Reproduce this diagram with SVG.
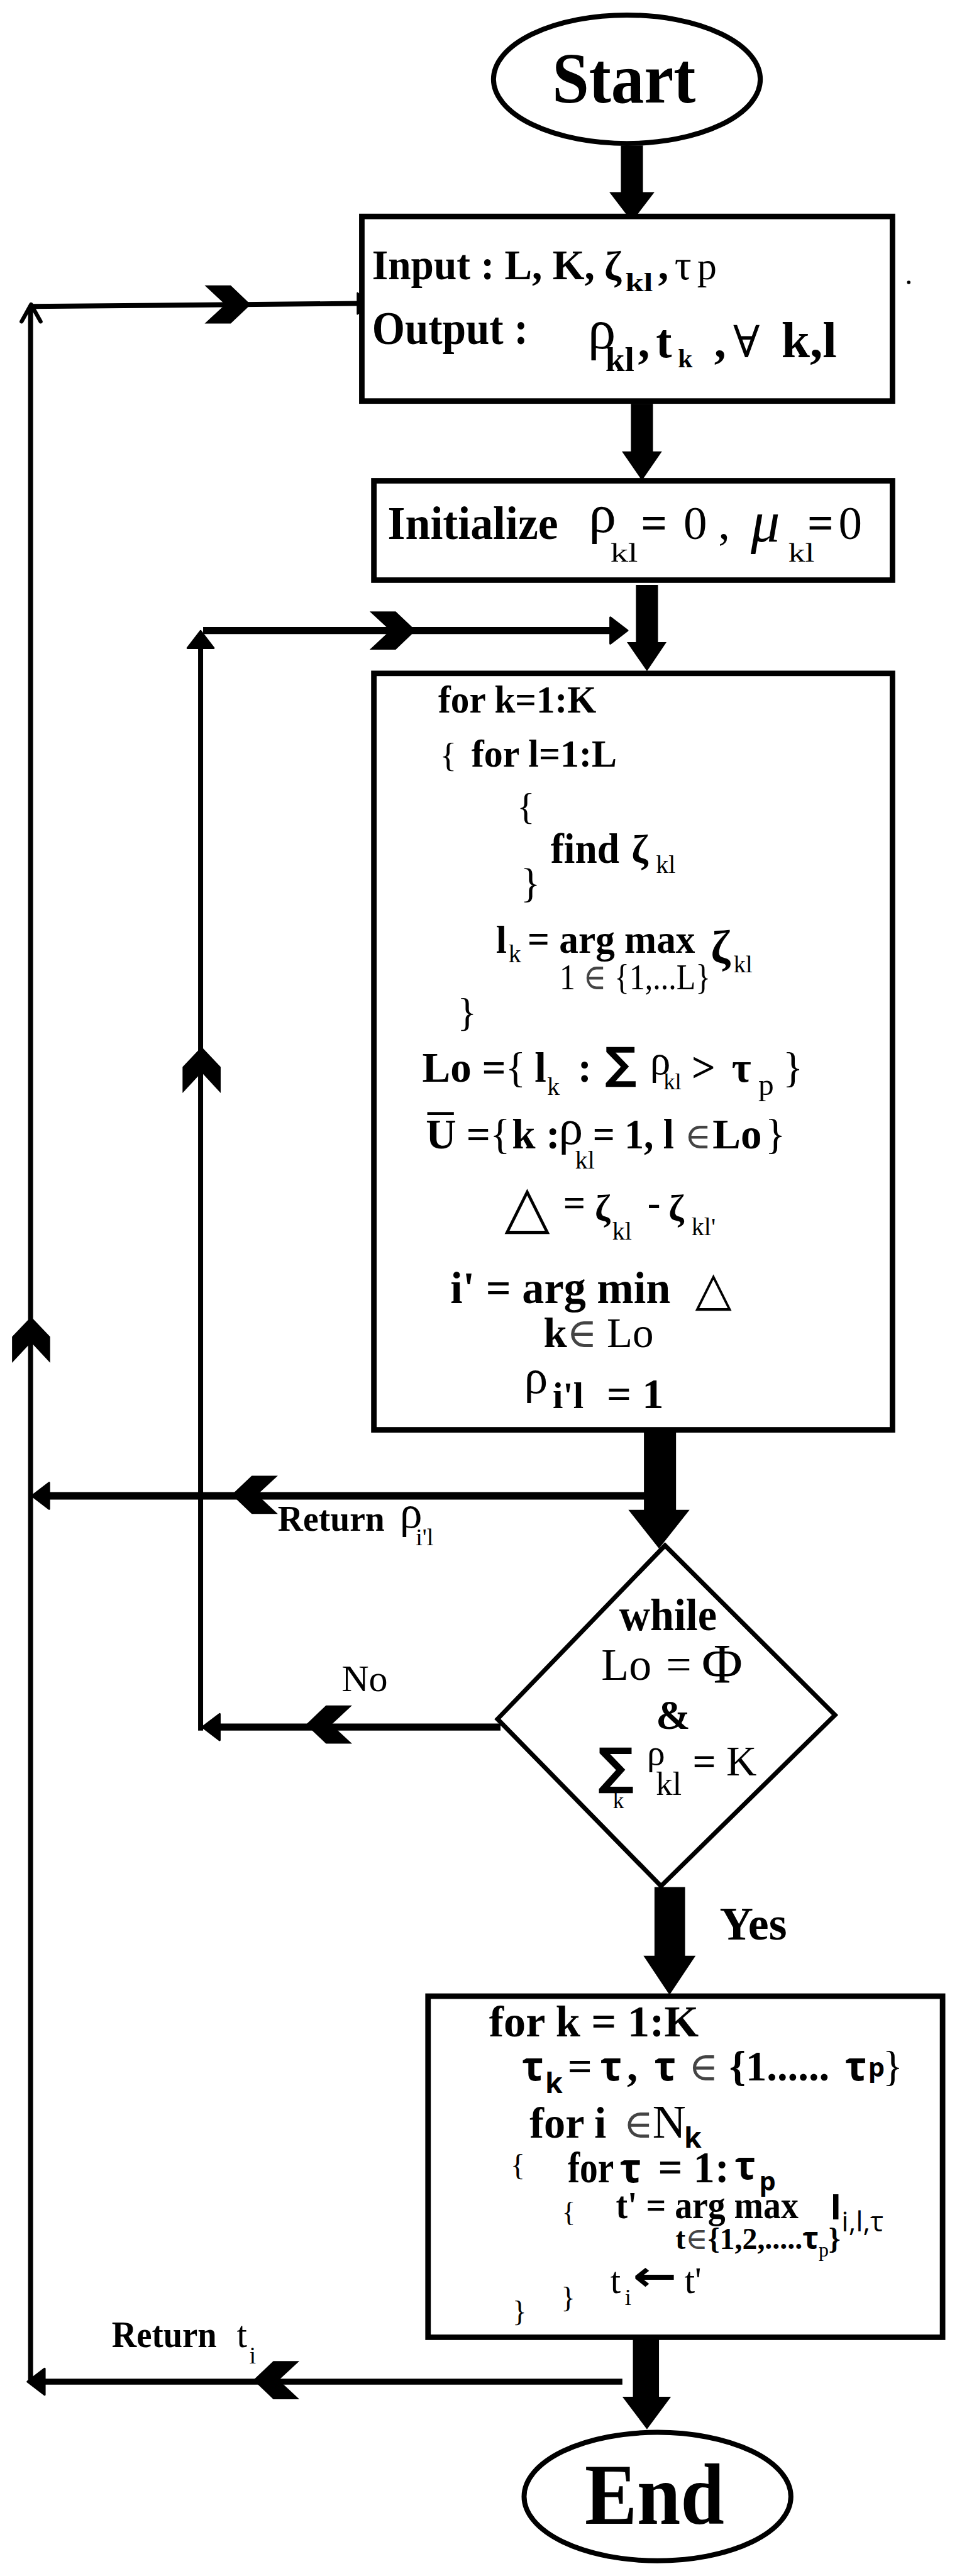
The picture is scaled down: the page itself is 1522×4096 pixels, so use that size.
<svg xmlns="http://www.w3.org/2000/svg" width="1522" height="4096" viewBox="0 0 1522 4096">
<defs>
<style>
text{fill:#000}
.b{font-family:"Liberation Serif","DejaVu Serif",serif;font-weight:bold}
.r{font-family:"Liberation Serif","DejaVu Serif",serif;font-weight:normal}
.sb{font-family:"Open Sans","DejaVu Sans",sans-serif;font-weight:bold}
.sr{font-family:"Open Sans","DejaVu Sans",sans-serif;font-weight:normal}
.sym{font-family:"DejaVu Sans",sans-serif;font-weight:normal}
.symb{font-family:"DejaVu Sans",sans-serif;font-weight:bold}
.g{fill:#444}
.box{fill:#fff;stroke:#000;stroke-width:11}
.ell{fill:#fff;stroke:#000;stroke-width:10}
.k{fill:#000}
.ln{stroke:#000;fill:none}
.tipc{fill:#000;stroke:#000;stroke-width:4;stroke-linejoin:round}
</style>
<path id="chev" d="M0,0 L-40,-38 L-92,-38 L-51,0 L-92,38 L-40,38 Z"/>
<path id="tip" d="M0,0 L-34,-26 L-34,26 Z"/>
</defs>
<rect width="1522" height="4096" fill="#fff"/>
<g transform="scale(0.7976)">

<g id="connectors">
  <!-- Start -> Input -->
  <rect class="k" x="1238" y="290" width="44" height="95"/>
  <polygon class="k" points="1215,383 1305,383 1260,442"/>
  <!-- Input -> Initialize -->
  <rect class="k" x="1258" y="805" width="44" height="100"/>
  <polygon class="k" points="1240,900 1320,900 1280,958"/>
  <!-- Initialize -> loop -->
  <rect class="k" x="1268" y="1166" width="44" height="116"/>
  <polygon class="k" points="1250,1280 1329,1280 1290,1338"/>
  <!-- loop -> decision -->
  <rect class="k" x="1284" y="2854" width="64" height="158"/>
  <polygon class="k" points="1253,3010 1375,3010 1314,3087"/>
  <!-- decision -> assign (Yes) -->
  <rect class="k" x="1305" y="3762" width="61" height="139"/>
  <polygon class="k" points="1283,3899 1387,3899 1335,3977"/>
  <!-- assign -> End -->
  <rect class="k" x="1262" y="4662" width="52" height="118"/>
  <polygon class="k" points="1241,4778 1338,4778 1290,4843"/>

  <!-- outer feedback loop -->
  <line class="ln" x1="61" y1="4748" x2="61" y2="615" stroke-width="10"/>
  <path class="ln" d="M43,641 L62,607 L81,641" stroke-width="8" stroke-linecap="round" stroke-linejoin="round"/>
  <line class="ln" x1="61" y1="611" x2="716" y2="605" stroke-width="10"/>
  <use href="#tip" class="tipc" transform="translate(740,605) scale(0.8)"/>
  <use href="#chev" class="k" transform="translate(500,607)"/>
  <use href="#chev" class="k" transform="translate(62,2625) rotate(-90)"/>

  <!-- inner loop -->
  <line class="ln" x1="400" y1="3450" x2="400" y2="1285" stroke-width="10"/>
  <use href="#tip" class="tipc" transform="translate(400,1258) rotate(-90)"/>
  <line class="ln" x1="405" y1="1257" x2="1220" y2="1257" stroke-width="14"/>
  <use href="#tip" class="tipc" transform="translate(1251,1257)"/>
  <use href="#chev" class="k" transform="translate(829,1257)"/>
  <use href="#chev" class="k" transform="translate(402,2087) rotate(-90)"/>

  <!-- Return rho -->
  <line class="ln" x1="1290" y1="2982" x2="92" y2="2982" stroke-width="15"/>
  <use href="#tip" class="tipc" transform="translate(64,2982) rotate(180)"/>
  <use href="#chev" class="k" transform="translate(462,2980) rotate(180)"/>
  <text class="b" x="554" y="3052" font-size="72" textLength="213" lengthAdjust="spacingAndGlyphs">Return</text>
  <text class="r" x="797" y="3045" font-size="90">ρ</text>
  <text class="r" x="829" y="3081" font-size="48">i'l</text>

  <!-- No -->
  <line class="ln" x1="998" y1="3443" x2="430" y2="3443" stroke-width="14"/>
  <use href="#tip" class="tipc" transform="translate(404,3443) rotate(180)"/>
  <use href="#chev" class="k" transform="translate(610,3438) rotate(180)"/>
  <text class="r" x="681" y="3371" font-size="74" textLength="92" lengthAdjust="spacingAndGlyphs">No</text>

  <!-- Yes -->
  <text class="b" x="1435" y="3866" font-size="94" textLength="134" lengthAdjust="spacingAndGlyphs">Yes</text>

  <!-- Return t_i -->
  <line class="ln" x1="1241" y1="4748" x2="80" y2="4748" stroke-width="12"/>
  <use href="#tip" class="tipc" transform="translate(55,4748) rotate(180)"/>
  <use href="#chev" class="k" transform="translate(505,4745) rotate(180)"/>
  <text class="b" x="223" y="4679" font-size="74" textLength="209" lengthAdjust="spacingAndGlyphs">Return</text>
  <text class="r" x="472" y="4679" font-size="74">t</text>
  <text class="r" x="497" y="4712" font-size="48">i</text>
</g>

<g id="node-start">
  <ellipse class="ell" cx="1250" cy="158" rx="266" ry="128"/>
  <text class="b" x="1244" y="204" font-size="144" text-anchor="middle" textLength="286" lengthAdjust="spacingAndGlyphs">Start</text>
</g>

<g id="node-input">
  <rect class="box" x="721.5" y="431.5" width="1058" height="368"/>
  <text class="b" x="742" y="557" font-size="86" textLength="444" lengthAdjust="spacingAndGlyphs">Input : L, K,</text>
  <text class="b" x="1205" y="558" font-size="82">ζ</text>
  <text class="b" x="1247" y="580" font-size="54" textLength="55" lengthAdjust="spacingAndGlyphs">kl</text>
  <text class="b" x="1312" y="557" font-size="84">,</text>
  <text class="r" x="1345" y="557" font-size="84">τ</text>
  <text class="r" x="1390" y="557" font-size="78">p</text>
  <text class="b" x="742" y="686" font-size="94" textLength="311" lengthAdjust="spacingAndGlyphs">Output :</text>
  <text class="r" x="1172" y="694" font-size="112">ρ</text>
  <text class="b" x="1207" y="740" font-size="70" textLength="58" lengthAdjust="spacingAndGlyphs">kl</text>
  <text class="b" x="1272" y="712" font-size="95">,</text>
  <text class="b" x="1308" y="712" font-size="95">t</text>
  <text class="b" x="1352" y="732" font-size="52">k</text>
  <text class="b" x="1424" y="712" font-size="95">,</text>
  <text class="r" x="1462" y="712" font-size="88">∀</text>
  <text class="b" x="1558" y="712" font-size="102">k,l</text>
  <circle cx="1812" cy="563" r="3.5" fill="#000"/>
</g>

<g id="node-init">
  <rect class="box" x="745.5" y="958.5" width="1034" height="198"/>
  <text class="b" x="773" y="1074" font-size="94" textLength="340" lengthAdjust="spacingAndGlyphs">Initialize</text>
  <text class="r" x="1174" y="1061" font-size="110">ρ</text>
  <text class="r" x="1217" y="1120" font-size="52" textLength="55" lengthAdjust="spacingAndGlyphs">kl</text>
  <text class="b" x="1278" y="1074" font-size="92">=</text>
  <text class="r" x="1363" y="1074" font-size="94">0</text>
  <text class="r" x="1432" y="1074" font-size="94">,</text>
  <text class="r" x="1497" y="1080" font-size="116" font-style="italic" fill="#333">μ</text>
  <text class="r" x="1572" y="1120" font-size="52" textLength="52" lengthAdjust="spacingAndGlyphs">kl</text>
  <text class="b" x="1610" y="1074" font-size="92">=</text>
  <text class="r" x="1672" y="1074" font-size="94">0</text>
</g>

<g id="node-loop">
  <rect class="box" x="745.5" y="1342.5" width="1034" height="1508"/>
  <text class="b" x="874" y="1420" font-size="76" textLength="315" lengthAdjust="spacingAndGlyphs">for k=1:K</text>
  <text class="r" x="877" y="1528" font-size="70">{</text>
  <text class="b" x="940" y="1528" font-size="76" textLength="290" lengthAdjust="spacingAndGlyphs">for l=1:L</text>
  <text class="r" x="1031" y="1632" font-size="74">{</text>
  <text class="b" x="1098" y="1720" font-size="84" textLength="137" lengthAdjust="spacingAndGlyphs">find</text>
  <text class="b" x="1259" y="1720" font-size="80">ζ</text>
  <text class="r" x="1308" y="1740" font-size="50">kl</text>
  <text class="r" x="1038" y="1788" font-size="82">}</text>
  <text class="b" x="989" y="1900" font-size="78">l</text>
  <text class="r" x="1014" y="1918" font-size="50">k</text>
  <text class="b" x="1052" y="1900" font-size="80" textLength="334" lengthAdjust="spacingAndGlyphs">= arg max</text>
  <text class="b" x="1417" y="1920" font-size="94">ζ</text>
  <text class="r" x="1463" y="1938" font-size="48">kl</text>
  <text class="r" x="1116" y="1972" font-size="72" textLength="301" lengthAdjust="spacingAndGlyphs">1 <tspan class="g">∈</tspan> {1,...L}</text>
  <text class="r" x="912" y="2045" font-size="80">}</text>

  <text class="b" x="842" y="2156" font-size="84">Lo =</text>
  <text class="r" x="1008" y="2156" font-size="84">{</text>
  <text class="b" x="1066" y="2156" font-size="84">l</text>
  <text class="r" x="1091" y="2183" font-size="50">k</text>
  <text class="b" x="1152" y="2156" font-size="84">:</text>
  <text class="symb" x="1206" y="2150" font-size="88">∑</text>
  <text class="r" x="1296" y="2141" font-size="82">ρ</text>
  <text class="r" x="1323" y="2171" font-size="46">kl</text>
  <text class="b" x="1379" y="2156" font-size="84">&gt;</text>
  <text class="b" x="1459" y="2156" font-size="84">τ</text>
  <text class="r" x="1512" y="2183" font-size="62">p</text>
  <text class="r" x="1561" y="2156" font-size="84">}</text>

  <text class="b" x="849" y="2289" font-size="84">U</text>
  <line x1="852" y1="2220" x2="905" y2="2220" stroke="#000" stroke-width="6"/>
  <text class="b" x="930" y="2289" font-size="84">=</text>
  <text class="r" x="977" y="2289" font-size="84">{</text>
  <text class="b" x="1021" y="2289" font-size="84">k :</text>
  <text class="r" x="1114" y="2280" font-size="97">ρ</text>
  <text class="r" x="1147" y="2329" font-size="50">kl</text>
  <text class="b" x="1182" y="2289" font-size="84" textLength="162" lengthAdjust="spacingAndGlyphs">= 1, l</text>
  <text class="r g" x="1365" y="2289" font-size="72">∈</text>
  <text class="b" x="1421" y="2289" font-size="84">Lo</text>
  <text class="r" x="1526" y="2289" font-size="84">}</text>

  <text class="sym" x="1006" y="2446" font-size="118">△</text>
  <text class="b" x="1123" y="2423" font-size="78">=</text>
  <text class="b" x="1186" y="2433" font-size="74">ζ</text>
  <text class="r" x="1221" y="2471" font-size="50">kl</text>
  <text class="b" x="1291" y="2423" font-size="78">-</text>
  <text class="b" x="1333" y="2433" font-size="74">ζ</text>
  <text class="r" x="1379" y="2462" font-size="50">kl'</text>

  <text class="b" x="898" y="2598" font-size="90" textLength="439" lengthAdjust="spacingAndGlyphs">i' = arg min</text>
  <text class="sym" x="1386" y="2601" font-size="95">△</text>
  <text class="b" x="1084" y="2686" font-size="84">k</text>
  <text class="r g" x="1130" y="2686" font-size="82">∈</text>
  <text class="r" x="1210" y="2686" font-size="84">Lo</text>

  <text class="r" x="1045" y="2777" font-size="95">ρ</text>
  <text class="b" x="1102" y="2807" font-size="74">i'l</text>
  <text class="b" x="1210" y="2807" font-size="86">= 1</text>
</g>

<g id="node-decision">
  <polygon points="1326,3081 1665,3419 1318,3760 992,3427" fill="#fff" stroke="#000" stroke-width="9"/>
  <text class="b" x="1332" y="3250" font-size="90" text-anchor="middle" textLength="195" lengthAdjust="spacingAndGlyphs">while</text>
  <text class="r" x="1199" y="3349" font-size="90">Lo</text>
  <text class="r" x="1328" y="3349" font-size="90">=</text>
  <text class="r" x="1399" y="3354" font-size="112">Φ</text>
  <text class="b" x="1308" y="3447" font-size="82">&amp;</text>
  <text class="symb" x="1192" y="3556" font-size="100">∑</text>
  <text class="r" x="1222" y="3604" font-size="44">k</text>
  <text class="r" x="1290" y="3518" font-size="72">ρ</text>
  <text class="r" x="1308" y="3578" font-size="66">kl</text>
  <text class="b" x="1381" y="3540" font-size="82">=</text>
  <text class="r" x="1448" y="3540" font-size="84">K</text>
</g>

<g id="node-assign">
  <rect class="box" x="853.5" y="3979.5" width="1026" height="680"/>
  <text class="b" x="975" y="4060" font-size="88" textLength="418" lengthAdjust="spacingAndGlyphs">for k = 1:K</text>
  <text class="sb" x="1041" y="4147" font-size="80">τ</text>
  <text class="sb" x="1087" y="4172" font-size="56">k</text>
  <text class="b" x="1132" y="4147" font-size="86">=</text>
  <text class="sb" x="1197" y="4147" font-size="80">τ</text>
  <text class="b" x="1250" y="4147" font-size="86">,</text>
  <text class="sb" x="1305" y="4147" font-size="80">τ</text>
  <text class="r g" x="1373" y="4147" font-size="80">∈</text>
  <text class="b" x="1454" y="4147" font-size="84" textLength="200" lengthAdjust="spacingAndGlyphs">{1......</text>
  <text class="sb" x="1685" y="4147" font-size="80">τ</text>
  <text class="sb" x="1731" y="4140" font-size="52">p</text>
  <text class="r" x="1760" y="4147" font-size="84">}</text>

  <text class="b" x="1056" y="4261" font-size="88" textLength="153" lengthAdjust="spacingAndGlyphs">for i</text>
  <text class="r g" x="1243" y="4261" font-size="80">∈</text>
  <text class="r" x="1301" y="4261" font-size="92">N</text>
  <text class="sb" x="1364" y="4282" font-size="56">k</text>

  <text class="r" x="1018" y="4337" font-size="60">{</text>
  <text class="b" x="1132" y="4350" font-size="88" textLength="92" lengthAdjust="spacingAndGlyphs">for</text>
  <text class="sb" x="1236" y="4350" font-size="80">τ</text>
  <text class="b" x="1312" y="4350" font-size="88" textLength="142" lengthAdjust="spacingAndGlyphs">= 1:</text>
  <text class="sb" x="1465" y="4344" font-size="78">τ</text>
  <text class="sb" x="1514" y="4367" font-size="52">p</text>

  <text class="r" x="1121" y="4428" font-size="55">{</text>
  <text class="b" x="1228" y="4422" font-size="78" textLength="364" lengthAdjust="spacingAndGlyphs">t' = arg max</text>
  <text class="sb" x="1655" y="4425" font-size="70">I</text>
  <text class="sr" x="1678" y="4448" font-size="56">i,l,τ</text>
  <text class="b" x="1347" y="4484" font-size="60">t<tspan class="r g">∈</tspan>{1,2,.....<tspan class="sb">τ</tspan><tspan class="r" font-size="40" dy="14">p</tspan><tspan dy="-14">}</tspan></text>

  <text class="r" x="1217" y="4571" font-size="74">t</text>
  <text class="r" x="1246" y="4595" font-size="46">i</text>
  <text class="symb" x="1262" y="4566" font-size="84" textLength="88" lengthAdjust="spacingAndGlyphs">←</text>
  <text class="r" x="1365" y="4571" font-size="74">t'</text>
  <text class="r" x="1119" y="4600" font-size="58">}</text>
  <text class="r" x="1022" y="4628" font-size="58">}</text>
</g>

<g id="node-end">
  <ellipse class="ell" cx="1311" cy="4977" rx="266" ry="128"/>
  <text class="b" x="1305" y="5031" font-size="172" text-anchor="middle" textLength="278" lengthAdjust="spacingAndGlyphs">End</text>
</g>

</g>
</svg>
